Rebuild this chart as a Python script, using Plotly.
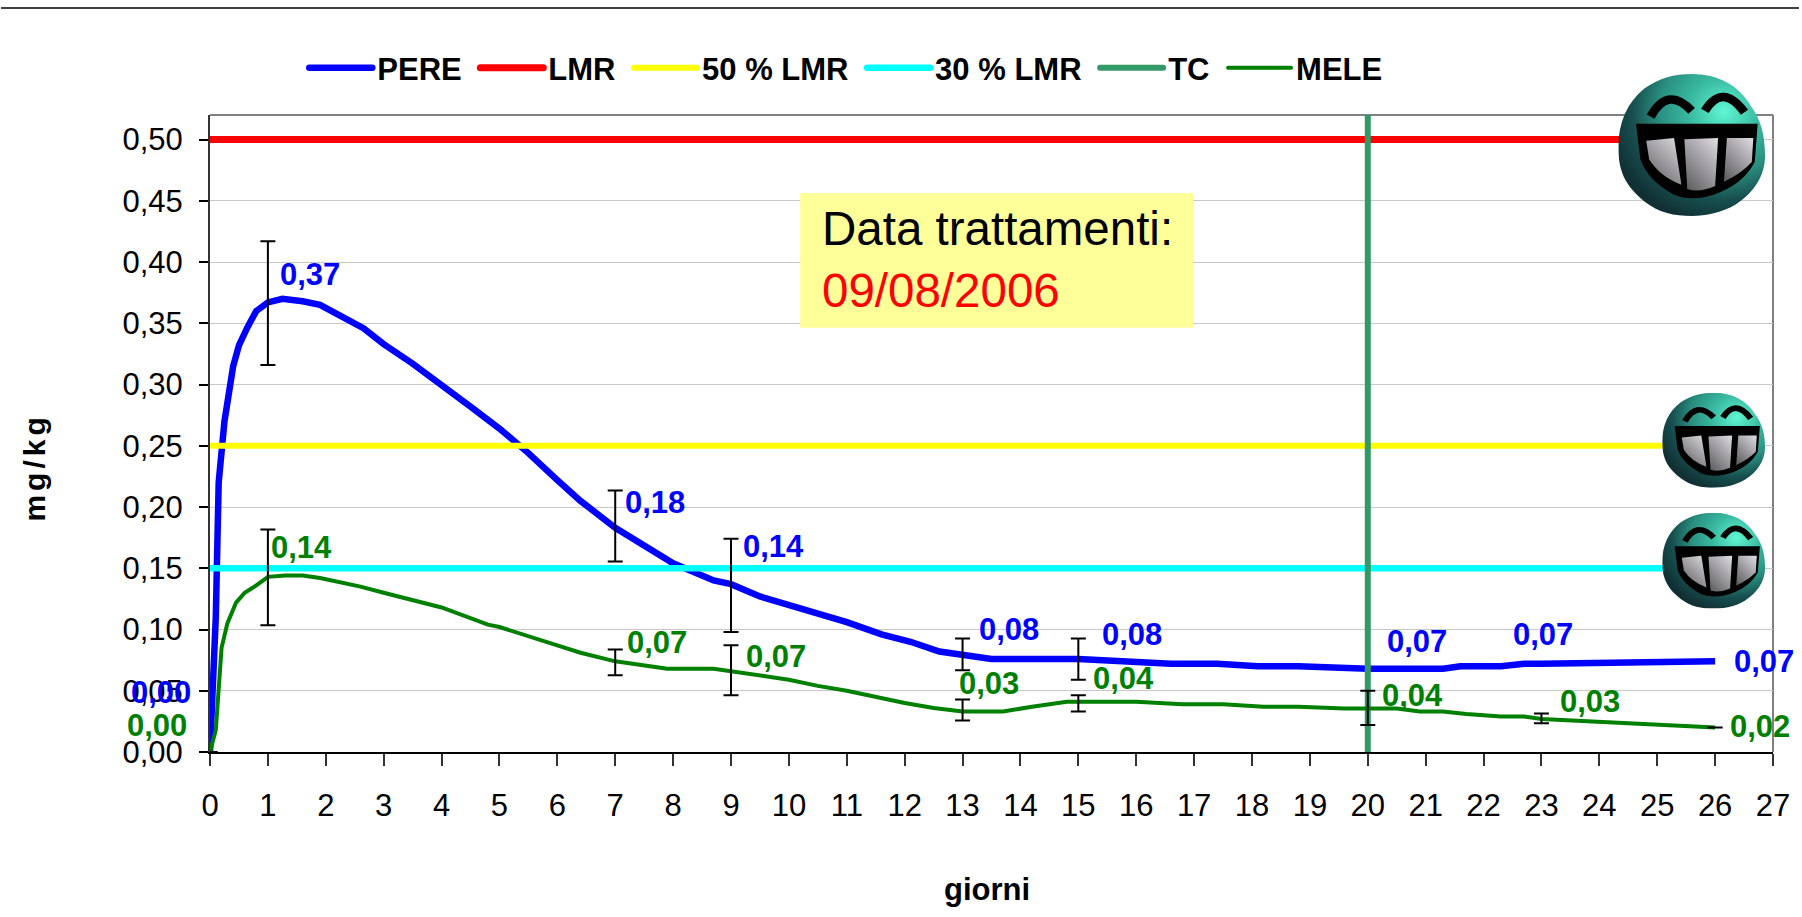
import base64
import plotly.graph_objects as go

# ---------- data ----------
PERE_X = [0, 0.05, 0.1, 0.15, 0.25, 0.4, 0.5, 0.65, 0.8, 1, 1.25, 1.6, 1.9, 2.65, 3, 3.5, 4, 4.5, 5, 5.5, 6, 6.4, 7, 7.5, 8, 8.7, 9, 9.5, 10, 11, 11.6, 12.1, 12.6, 13, 13.5, 15, 16, 16.6, 17.4, 18.1, 18.8, 19.6, 20, 21.3, 21.6, 22.3, 22.7, 23, 26]
PERE_Y = [0, 0.05, 0.11, 0.22, 0.27, 0.315, 0.332, 0.347, 0.36, 0.367, 0.37, 0.368, 0.365, 0.346, 0.333, 0.317, 0.3, 0.282, 0.264, 0.244, 0.222, 0.205, 0.183, 0.168, 0.154, 0.14, 0.137, 0.127, 0.12, 0.106, 0.096, 0.09, 0.082, 0.079, 0.076, 0.076, 0.073, 0.072, 0.072, 0.07, 0.07, 0.068, 0.068, 0.068, 0.07, 0.07, 0.072, 0.072, 0.074]
MELE_X = [0, 0.1, 0.2, 0.3, 0.45, 0.6, 0.8, 1, 1.3, 1.6, 1.9, 2.6, 3, 4, 4.8, 5, 6, 6.4, 7, 7.9, 8.7, 9, 9.5, 10, 10.5, 11, 12, 12.5, 13, 13.7, 14.2, 14.8, 15, 16, 16.8, 17.5, 18.2, 18.8, 19.6, 20, 20.5, 20.9, 21.3, 21.7, 22.3, 22.7, 23, 26]
MELE_Y = [0, 0.018, 0.085, 0.105, 0.122, 0.13, 0.136, 0.143, 0.144, 0.144, 0.142, 0.135, 0.13, 0.118, 0.104, 0.102, 0.087, 0.081, 0.074, 0.068, 0.068, 0.066, 0.062, 0.059, 0.054, 0.05, 0.04, 0.036, 0.033, 0.033, 0.037, 0.041, 0.041, 0.041, 0.039, 0.039, 0.037, 0.037, 0.0355, 0.0355, 0.0355, 0.033, 0.033, 0.031, 0.029, 0.029, 0.027, 0.02]

LMR = 0.50
LMR_50 = 0.25
LMR_30 = 0.15
LIMIT_DAYS = [0, 26]
TC_DAY = 20

PERE_DAYS = [0, 1, 7, 9, 13, 15, 20, 23, 26]
PERE_VALS = [0, 0.367, 0.183, 0.137, 0.079, 0.076, 0.068, 0.072, 0.074]
PERE_HI = [0, 0.417, 0.2135, 0.174, 0.0926, 0.0926, None, None, None]
PERE_LO = [0, 0.316, 0.1555, 0.098, 0.0668, 0.059, None, None, None]

MELE_DAYS = [0, 1, 7, 9, 13, 15, 20, 23, 26]
MELE_VALS = [0, 0.143, 0.074, 0.066, 0.033, 0.041, 0.0355, 0.027, 0.02]
MELE_HI = [0, 0.1816, 0.0837, 0.0872, 0.0429, 0.0464, 0.05, 0.0314, 0.02]
MELE_LO = [0, 0.1035, 0.0627, 0.0464, 0.0257, 0.033, 0.022, 0.0235, 0.02]

# label offsets from their points, in pixels (right, up)
PERE_OFFSETS = [(-49, 60), (42, 28), (40, 25), (42, 38), (46, 26), (54, 24), (49, 27), (2, 29), (49, 0)]
MELE_OFFSETS = [(-53, 27), (34, 29), (42, 19), (45, 15), (26, 28), (45, 23), (45, 13), (49, 17), (45, 1)]

BLUE, RED, YELLOW, CYAN, SEA, GREEN = "#0000ff", "#ff0000", "#ffff00", "#00ffff", "#339966", "#008000"

# ---------- layout geometry ----------
W, H = 1802, 917
L, R, T, B = 209.5, 1776, 115, 752.5
FONT = "Liberation Sans"


def px(x):
    return (x - L) / (R - L)


def py(y):
    return (B - y) / (B - T)


# ---------- decorative face ----------
FACE = """<svg xmlns="http://www.w3.org/2000/svg" viewBox="0 0 100 100" preserveAspectRatio="none">
<defs>
<radialGradient id="b" cx="0.72" cy="0.26" r="0.8">
<stop offset="0" stop-color="#5ff7d2"/><stop offset="0.3" stop-color="#39b9a0"/>
<stop offset="0.55" stop-color="#2a8f80"/><stop offset="0.78" stop-color="#174f4f"/><stop offset="1" stop-color="#113033"/></radialGradient>
<linearGradient id="t" x1="0.9" y1="0" x2="0.2" y2="1">
<stop offset="0" stop-color="#dcd8de"/><stop offset="1" stop-color="#626264"/></linearGradient>
</defs>
<path d="M50,0 C68,0 82,8 90,22 C97,32 100,42 100,58 C100,72 92,84 80,92 C70,98 60,100 50,100 C38,100 28,98 18,90 C6,80 0,70 0,52 C0,34 6,20 18,10 C28,3 38,0 50,0 Z" fill="url(#b)"/>
<path d="M12,35 L95,35 L93,62 Q85,78 65,85 Q50,90 38,85 Q20,75 15,60 Z" fill="#000"/>
<path d="M19,47 L38,45 L43,78 Q28,72 21,60 Z" fill="url(#t)"/>
<path d="M45,46 L68,45 L66,79 Q55,84 47,81 Z" fill="url(#t)"/>
<path d="M74,45 L92,45 L91,62 Q84,70 72,76 Z" fill="url(#t)"/>
<path d="M22,30 Q34,8 50,26" fill="none" stroke="#000" stroke-width="6"/>
<path d="M59,26 Q71,6 86,27" fill="none" stroke="#000" stroke-width="6"/>
</svg>"""
FACE_URI = "data:image/svg+xml;base64," + base64.b64encode(FACE.encode()).decode()
FACE_BOXES = [(1621, 74, 147, 142), (1665, 393, 103, 95), (1665, 513, 103, 96)]

# ---------- figure ----------
NBSP = "\u00a0"
fig = go.Figure()
fig.add_trace(go.Scatter(x=PERE_X, y=PERE_Y, mode="lines", name="PERE" + NBSP, line=dict(color=BLUE, width=6.5)))
for name, val, col, lw in [("LMR", LMR, RED, 7), ("50 % LMR", LMR_50, YELLOW, 6), ("30 % LMR", LMR_30, CYAN, 6.5)]:
    fig.add_trace(go.Scatter(x=LIMIT_DAYS, y=[val, val], mode="lines", name=name + NBSP, line=dict(color=col, width=lw)))
fig.add_trace(go.Scatter(x=[TC_DAY, TC_DAY], y=[0, 0.52], mode="lines", name="TC" + NBSP, line=dict(color=SEA, width=6)))
fig.add_trace(go.Scatter(x=MELE_X, y=MELE_Y, mode="lines", name="MELE", line=dict(color=GREEN, width=4)))

for days, vals, hi, lo in [(PERE_DAYS, PERE_VALS, PERE_HI, PERE_LO), (MELE_DAYS, MELE_VALS, MELE_HI, MELE_LO)]:
    rows = [(d, v, h, l) for d, v, h, l in zip(days, vals, hi, lo) if h is not None]
    fig.add_trace(go.Scatter(
        x=[r[0] for r in rows], y=[r[1] for r in rows], mode="markers", marker=dict(size=1, opacity=0),
        showlegend=False, hoverinfo="skip",
        error_y=dict(type="data", symmetric=False,
                     array=[r[2] - r[1] for r in rows],
                     arrayminus=[r[1] - r[3] for r in rows],
                     color="#000000", thickness=2, width=7.5),
    ))

annotations = []
for days, vals, offs, col in [(PERE_DAYS, PERE_VALS, PERE_OFFSETS, BLUE), (MELE_DAYS, MELE_VALS, MELE_OFFSETS, GREEN)]:
    for d, v, (dx, dy) in zip(days, vals, offs):
        annotations.append(dict(
            x=d, y=v, xref="x", yref="y", text=f"{v + 1e-9:.2f}".replace(".", ","), showarrow=False,
            xshift=dx, yshift=dy, xanchor="center", yanchor="middle",
            font=dict(family=FONT, size=31, color=col, weight="bold"),
        ))

annotations += [
    dict(x=px(821), y=py(260), xref="paper", yref="paper", xanchor="left", yanchor="middle", showarrow=False,
         align="left", text='Data trattamenti:<br><span style="color:#ff0000">09/08/2006</span>',
         font=dict(family=FONT, size=47.5, color="#000000")),
    dict(x=px(988), y=py(890), xref="paper", yref="paper", xanchor="center", yanchor="middle", showarrow=False,
         text="giorni", font=dict(family=FONT, size=31, color="#000000", weight="bold")),
    dict(x=px(34), y=py(468), xref="paper", yref="paper", xanchor="center", yanchor="middle", showarrow=False,
         text="mg/kg", textangle=-90, font=dict(family=FONT, size=30, color="#000000", weight="bold")),
]

fig.update_layout(
    width=W, height=H, autosize=False, paper_bgcolor="#ffffff", plot_bgcolor="#ffffff",
    margin=dict(l=L, r=W - R, t=T, b=H - B, pad=0), separators=",.",
    font=dict(family=FONT, size=31, color="#000000"),
    xaxis=dict(range=[0, 27], tick0=0, dtick=1, showgrid=False, zeroline=False, showline=True,
               linecolor="#000000", linewidth=2, ticks="outside", ticklen=12, tickwidth=1.5,
               tickcolor="#333333", ticklabelstandoff=13, tickfont=dict(family=FONT, size=31)),
    yaxis=dict(range=[0, 0.52], tick0=0, dtick=0.05, tickformat=".2f", showgrid=True, gridcolor="#c8c8c8",
               gridwidth=1.2, zeroline=False, showline=True, linecolor="#333333", linewidth=2, ticks="outside",
               ticklen=9, tickwidth=1.5, tickcolor="#000000", ticklabelstandoff=10,
               tickfont=dict(family=FONT, size=31)),
    legend=dict(orientation="h", x=px(304), xanchor="left", y=py(68), yanchor="middle", itemwidth=63,
                bgcolor="rgba(0,0,0,0)", font=dict(family=FONT, size=31, color="#000000", weight="bold"),
                itemclick=False, itemdoubleclick=False, traceorder="normal"),
    annotations=annotations,
    shapes=[
        dict(type="rect", xref="paper", yref="paper", x0=px(801), x1=px(1195), y0=py(193), y1=py(328),
             fillcolor="#ffff99", line=dict(width=0), layer="above"),
        dict(type="line", xref="paper", yref="paper", x0=px(0), x1=px(W), y0=py(8), y1=py(8),
             line=dict(color="#000000", width=1.5)),
        dict(type="line", xref="paper", yref="paper", x0=0, x1=1, y0=1, y1=1, line=dict(color="#808080", width=2),
             layer="below"),
        dict(type="line", xref="paper", yref="paper", x0=1, x1=1, y0=0, y1=1, line=dict(color="#808080", width=2),
             layer="below"),
    ],
    images=[dict(source=FACE_URI, xref="paper", yref="paper", x=px(x), y=py(y), sizex=w / (R - L), sizey=h / (B - T),
                 xanchor="left", yanchor="top", sizing="stretch", layer="above") for x, y, w, h in FACE_BOXES],
)

POST = """
document.body.style.margin = '0';
document.body.style.overflow = 'hidden';
document.querySelectorAll('.legendlines path').forEach(function (p) { p.style.strokeLinecap = 'round'; });
document.querySelectorAll('.annotation-text').forEach(function (t) {
  if (t.textContent === 'mg/kg') { t.style.letterSpacing = '4px'; }
});
"""
fig.write_html("out.html", config={"displayModeBar": False}, post_script=POST)
